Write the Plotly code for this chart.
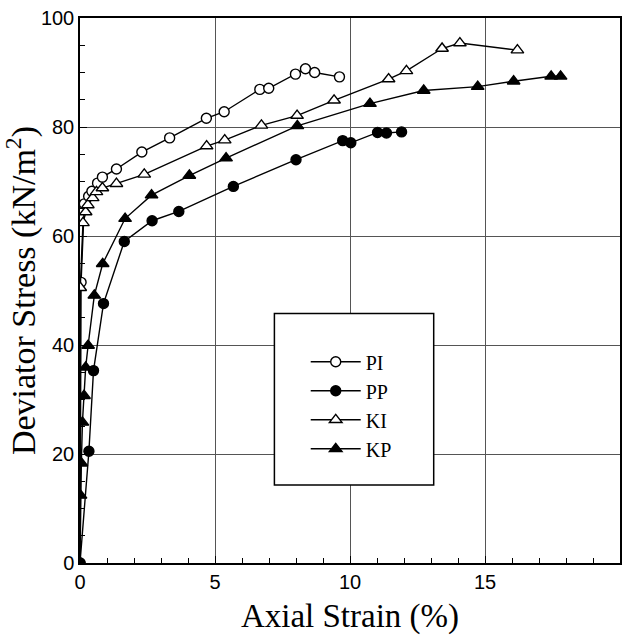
import plotly.graph_objects as go

# ---- data (Axial strain %, Deviator stress kN/m2) ----
pi_x = [0, 0.04, 0.16, 0.32, 0.44, 0.65, 0.83, 1.35, 2.29, 3.32, 4.68, 5.34, 6.66, 6.99, 7.98, 8.35, 8.69, 9.61]
pi_y = [0, 51.5, 65.9, 67.3, 68.2, 69.7, 70.8, 72.3, 75.4, 78.0, 81.6, 82.8, 86.9, 87.1, 89.7, 90.7, 90.0, 89.2]

pp_x = [0, 0.33, 0.50, 0.87, 1.64, 2.67, 3.66, 5.68, 8.0, 9.73, 10.03, 11.02, 11.35, 11.91]
pp_y = [0, 20.5, 35.3, 47.6, 59.0, 62.8, 64.5, 69.1, 74.0, 77.5, 77.1, 79.0, 78.9, 79.1]

ki_x = [0, 0.01, 0.11, 0.21, 0.29, 0.47, 0.61, 0.83, 1.35, 2.38, 4.69, 5.36, 6.72, 8.04, 9.41, 11.43, 12.09, 13.41, 14.07, 16.2]
ki_y = [0, 50.5, 62.4, 64.4, 65.7, 67.0, 68.1, 68.8, 69.6, 71.3, 76.5, 77.6, 80.3, 82.1, 84.9, 88.8, 90.3, 94.4, 95.4, 94.1]

kp_x = [0, 0.02, 0.05, 0.09, 0.15, 0.21, 0.30, 0.53, 0.84, 1.67, 2.65, 4.05, 5.41, 8.05, 10.74, 12.73, 14.73, 16.06, 17.45, 17.8]
kp_y = [0, 12.4, 18.3, 25.8, 30.7, 35.9, 39.9, 49.1, 54.9, 63.2, 67.5, 71.1, 74.3, 80.2, 84.3, 86.7, 87.4, 88.4, 89.3, 89.3]

series = [
    ("PI", pi_x, pi_y, "circle", "white", 10),
    ("PP", pp_x, pp_y, "circle", "black", 10),
    ("KI", ki_x, ki_y, "triangle-up", "white", 11),
    ("KP", kp_x, kp_y, "triangle-up", "black", 11),
]

x_ticks = [0, 5, 10, 15, 20]
y_ticks = [0, 20, 40, 60, 80, 100]

fig = go.Figure()
for name, xs, ys, sym, fill, sz in series:
    fig.add_trace(go.Scatter(
        x=xs, y=ys, name=name, mode="lines+markers",
        line=dict(color="black", width=1.4),
        marker=dict(symbol=sym, size=sz, color=fill, line=dict(color="black", width=1.4)),
    ))

# legend frame
fig.add_shape(type="rect", xref="paper", yref="paper",
              x0=0.36, x1=0.655, y0=0.143, y1=0.458,
              line=dict(color="black", width=1.5), fillcolor="white", layer="above")

axis_common = dict(
    showline=True, linecolor="black", linewidth=1.5, mirror=True,
    ticks="inside", ticklen=7, tickcolor="black", tickwidth=1.2,
    showgrid=True, gridcolor="#555555", gridwidth=1,
    zeroline=False,
    tickfont=dict(family="Liberation Sans", size=20, color="black"),
)

fig.update_xaxes(
    range=[0, 20], tickvals=x_ticks, ticktext=[str(v) for v in x_ticks],
    minor=dict(dtick=1, ticks="inside", ticklen=5, tickcolor="black", showgrid=False),
    title=dict(text="Axial Strain (%)", font=dict(family="Liberation Serif", size=33, color="black"), standoff=12),
    **axis_common,
)
fig.update_yaxes(
    range=[0, 100], tickvals=y_ticks, ticktext=[str(v) for v in y_ticks],
    minor=dict(dtick=5, ticks="inside", ticklen=5, tickcolor="black", showgrid=False),
    title=dict(text="Deviator Stress (kN/m<sup>2</sup>)", font=dict(family="Liberation Serif", size=34, color="black"), standoff=4),
    **axis_common,
)

fig.update_layout(
    width=629, height=643,
    margin=dict(l=80, r=7, t=17, b=80),
    paper_bgcolor="white", plot_bgcolor="white",
    showlegend=True,
    legend=dict(x=0.418, y=0.405, xanchor="left", yanchor="top",
                bgcolor="rgba(0,0,0,0)", borderwidth=0,
                font=dict(family="Liberation Serif", size=20, color="black"),
                itemwidth=50, tracegroupgap=0),
)

fig.write_html("out.html")
